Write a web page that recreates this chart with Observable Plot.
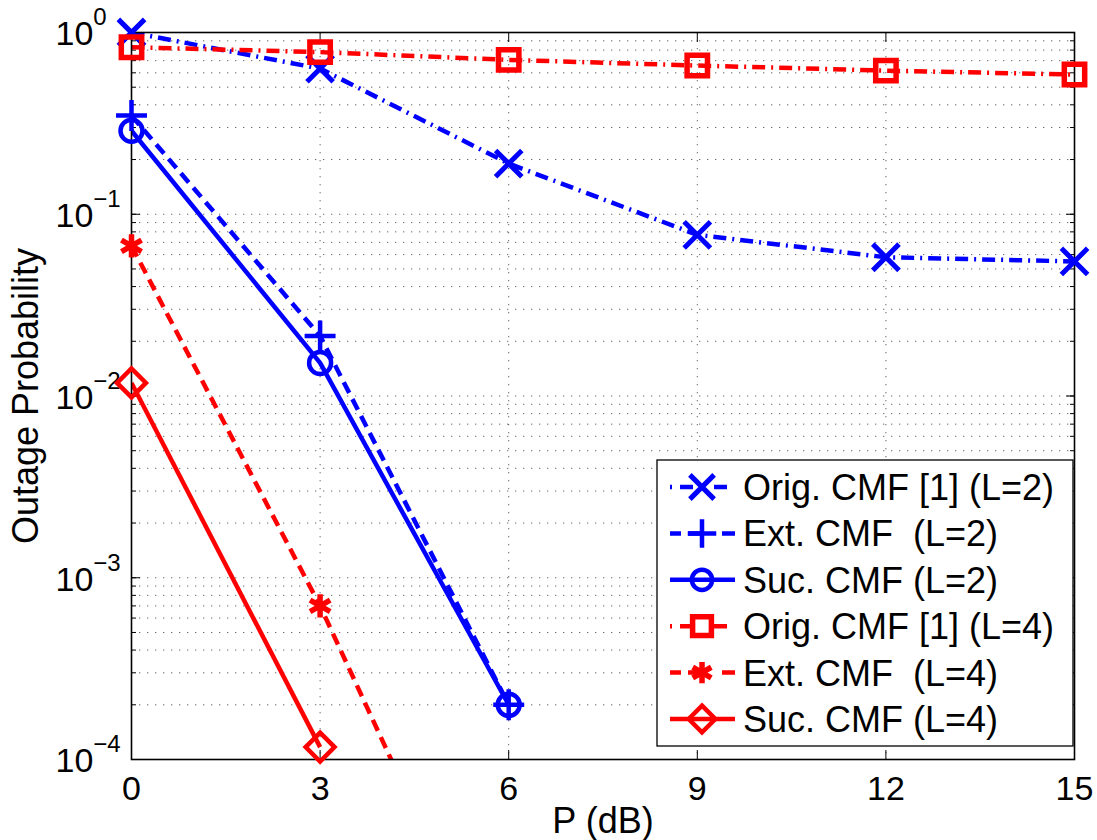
<!DOCTYPE html>
<html><head><meta charset="utf-8">
<script src="https://cdn.jsdelivr.net/npm/d3@7"></script>
<script src="https://cdn.jsdelivr.net/npm/@observablehq/plot@0.6"></script>
<style>body{margin:0;background:#fff;} #chart{width:1097px;height:840px;}</style>
</head><body><div id="chart"></div>
<script>
// ---- data ----
const snrDb = [0, 3, 6, 9, 12, 15];
const origCmfL2 = [1.0, 0.633, 0.19, 0.077, 0.058, 0.055];
const extCmfL2 = [0.349, 0.0214, 2.0e-4];
const sucCmfL2 = [0.288, 0.0152, 2.0e-4];
const origCmfL4 = [0.83, 0.78, 0.707, 0.658, 0.617, 0.587];
const extCmfL4 = [0.067, 7.0e-4, 4e-6];
const sucCmfL4 = [0.0118, 1.17e-4];
const seriesNames = ["Orig. CMF [1] (L=2)", "Ext. CMF  (L=2)", "Suc. CMF (L=2)",
                     "Orig. CMF [1] (L=4)", "Ext. CMF  (L=4)", "Suc. CMF (L=4)"];
const xTicks = [0, 3, 6, 9, 12, 15];
const yMajor = [1e-4, 1e-3, 1e-2, 1e-1, 1];
const yTickLabels = ["10^\u22124", "10^\u22123", "10^\u22122", "10^\u22121", "10^0"];

// ---- styling per series ----
const BLUE = "#0000ff", RED = "#ff0000";
const DASHDOT = "13,6,2,6", DASHED = "12,7";
const series = [
  {name: seriesNames[0], values: origCmfL2, color: BLUE, dash: DASHDOT, symbol: "times", r: 12, sw: 5, d3sym: d3.symbolTimes},
  {name: seriesNames[1], values: extCmfL2, color: BLUE, dash: DASHED, symbol: "plus", r: 10, sw: 4.5, d3sym: d3.symbolPlus},
  {name: seriesNames[2], values: sucCmfL2, color: BLUE, dash: null, symbol: "circle", r: 11, sw: 4.5, d3sym: d3.symbolCircle},
  {name: seriesNames[3], values: origCmfL4, color: RED, dash: DASHDOT, symbol: "square", r: 11.5, sw: 5.5, d3sym: d3.symbolSquare},
  {name: seriesNames[4], values: extCmfL4, color: RED, dash: DASHED, symbol: "asterisk", r: 11, sw: 5.5, d3sym: d3.symbolAsterisk},
  {name: seriesNames[5], values: sucCmfL4, color: RED, dash: null, symbol: "diamond2", r: 13, sw: 4.5, d3sym: d3.symbolDiamond2}
];
const rowsOf = s => s.values.map((v, i) => ({x: snrDb[i], y: v}));

const yMinor = [];
for (let e = -4; e < 0; e++) for (let m = 1; m <= 9; m++) yMinor.push(m * Math.pow(10, e));
yMinor.push(1);

const FONT = "Liberation Sans, Arial, Helvetica, sans-serif";

const lineMarks = series.map(s => Plot.line(rowsOf(s), {
  x: "x", y: "y", stroke: s.color, strokeWidth: 4.5, strokeDasharray: s.dash || undefined,
  strokeLinejoin: "miter", strokeLinecap: "butt", clip: true
}));
const dotMarks = series.map(s => Plot.dot(rowsOf(s), {
  x: "x", y: "y", symbol: s.symbol, r: s.r, stroke: s.color, fill: "none", strokeWidth: s.sw,
  filter: d => d.y >= 1e-4
}));

const plot = Plot.plot({
  width: 1097, height: 840,
  marginLeft: 131, marginRight: 23, marginTop: 32, marginBottom: 81,
  x: {domain: [0, 15]},
  y: {type: "log", domain: [1e-4, 1]},
  style: {fontFamily: FONT, fontSize: "34px", color: "#000", background: "#fff"},
  marks: [
    Plot.ruleY(yMinor, {stroke: "#000", strokeOpacity: 0.6, strokeWidth: 1, strokeDasharray: "1.3,6.7"}),
    Plot.ruleX(xTicks, {stroke: "#000", strokeOpacity: 0.6, strokeWidth: 1, strokeDasharray: "1.3,6.7"}),
    Plot.axisX({ticks: xTicks, tickSize: -9, tickPadding: 25, tickFormat: d => String(d),
                label: "P (dB)", labelAnchor: "center", labelArrow: "none", labelOffset: 73}),
    Plot.axisX({anchor: "top", ticks: xTicks, tickSize: -9, tickFormat: () => "", label: null}),
    Plot.axisY({ticks: yMajor, tickSize: -9, tickFormat: () => "",
                label: "Outage Probability", labelAnchor: "center", labelArrow: "none", labelOffset: 119}),
    Plot.axisY({ticks: yMinor, tickSize: -5, tickFormat: () => "", label: null}),
    Plot.axisY({anchor: "right", ticks: yMajor, tickSize: -9, tickFormat: () => "", label: null}),
    Plot.axisY({anchor: "right", ticks: yMinor, tickSize: -5, tickFormat: () => "", label: null}),
    Plot.text(yMajor, {y: d => d, text: (d, i) => yTickLabels[i], frameAnchor: "left", dx: -76, dy: 2,
                       textAnchor: "start", fontSize: 34, fill: "#000"}),
    ...lineMarks,
    Plot.frame({stroke: "#000", strokeWidth: 1.6}),
    ...dotMarks
  ]
});
document.getElementById("chart").appendChild(plot);

const svg = d3.select(plot);
// axis titles at 36px
svg.selectAll('g[aria-label="x-axis label"] text, g[aria-label="y-axis label"] text').style("font-size", "36px");
// superscript exponents on y tick labels
svg.selectAll("text").each(function() {
  const t = d3.select(this);
  const s = t.text();
  const m = /^10\^(.+)$/.exec(s);
  if (!m) return;
  t.text("10");
  t.append("tspan").attr("dy", "-20").style("font-size", "24px").text(m[1]);
});

// legend (inside the axes, lower right)
const lg = svg.append("g").style("font-family", FONT).style("font-size", "36px");
const lx = 657, ly = 460, lw = 416, lh = 286, rowH = 46.4, firstY = 487;
lg.append("rect").attr("x", lx).attr("y", ly).attr("width", lw).attr("height", lh)
  .attr("fill", "#fff").attr("stroke", "#000").attr("stroke-width", 1.3);
series.forEach((s, i) => {
  const cy = firstY + i * rowH;
  lg.append("line").attr("x1", 670).attr("x2", 735).attr("y1", cy).attr("y2", cy)
    .attr("stroke", s.color).attr("stroke-width", 4.5)
    .attr("stroke-dasharray", s.dash ? (s.dash === DASHDOT ? "2,8,13,21,13,8,2" : "11,7,13,21,13") : null);
  lg.append("path").attr("transform", `translate(702,${cy})`)
    .attr("d", d3.symbol(s.d3sym, Math.PI * s.r * s.r * 0.85)())
    .attr("fill", "none").attr("stroke", s.color).attr("stroke-width", s.sw);
  lg.append("text").attr("x", 743).attr("y", cy).attr("dy", "0.36em")
    .style("text-anchor", "start").style("font-size", "36px").attr("fill", "#000").text(s.name);
});
</script>
</body></html>
